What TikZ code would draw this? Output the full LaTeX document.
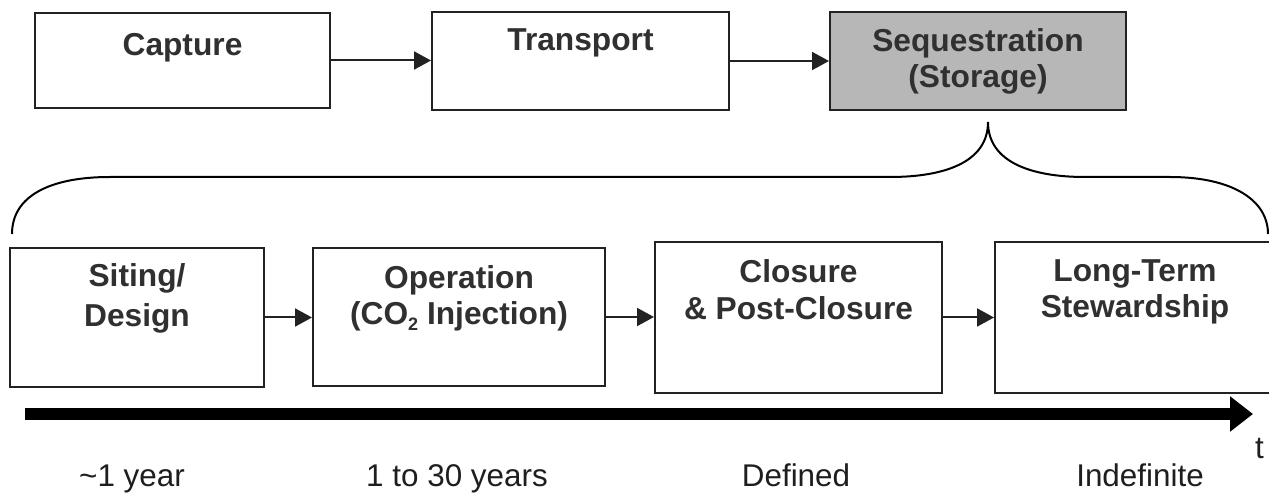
\documentclass[tikz,border=0pt]{standalone}
\usepackage{fontspec}
\setmainfont{Liberation Sans}
\usetikzlibrary{arrows.meta}
\definecolor{txt}{HTML}{303030}
\definecolor{lowtxt}{HTML}{1E1E1E}
\definecolor{seqgray}{HTML}{B7B7B7}
\definecolor{edge}{HTML}{222222}
\newcommand{\lowsub}[1]{\raisebox{-6pt}{\fontsize{18}{18}\selectfont #1}}
\begin{document}
\begin{tikzpicture}[x=1pt,y=-1pt,
  stagebox/.style={draw=edge, line width=2pt, inner sep=0pt, fill=white},
  lbl/.style={anchor=north, inner sep=0pt, align=center, text=txt},
  bigbold/.style={font=\fontsize{31.7}{#1}\selectfont\bfseries},
  conn/.style={draw=edge, line width=2pt, -{Triangle[length=17pt,width=18pt]}},
  brace/.style={draw=black, line width=2pt},
  dur/.style={anchor=base, inner sep=0pt, text=lowtxt, font=\fontsize{31.4}{37}\selectfont}]
\useasboundingbox (0,0) rectangle (1269,494);
\clip (0,0) rectangle (1269,494);

% top row
\node[stagebox, minimum width=295pt, minimum height=95pt] (cap) at (182.5,60.5) {};
\node[stagebox, minimum width=297pt, minimum height=98pt] (trans) at (580.5,61) {};
\node[stagebox, fill=seqgray, minimum width=296pt, minimum height=98pt] (seq) at (978,61) {};
\node[lbl, bigbold=37] (capT) at (182.5,33) {Capture};
\node[lbl, bigbold=37] (transT) at (580.5,28) {Transport};
\node[lbl, bigbold=36.5] (seqT) at (978,28) {Sequestration\\(Storage)};
\draw[conn] (cap.east) -- (cap.east -| trans.west);
\draw[conn] (trans.east) -- (trans.east -| seq.west);

% brace
\coordinate (bl) at (12,234);
\coordinate (br) at (1268,234);
\coordinate (btip) at (988,122);
\draw[brace] (bl) .. controls (12,196) and (50,177) .. (110,177) -- (890,177)
  .. controls (945,177) and (988,162) .. (btip)
  .. controls (988,162) and (1031,177) .. (1085,177) -- (1170,177)
  .. controls (1232,177) and (1268,200) .. (br);

% bottom row
\node[stagebox, minimum width=254pt, minimum height=139pt] (site) at (137,317.5) {};
\node[stagebox, minimum width=292pt, minimum height=138pt] (oper) at (459,317) {};
\node[stagebox, minimum width=287pt, minimum height=151pt] (clos) at (798.5,317.5) {};
\node[stagebox, minimum width=280pt, minimum height=151pt] (long) at (1135,317.5) {};
\node[lbl, bigbold=40] (siteT) at (137,263) {Siting/\\Design};
\node[lbl, bigbold=36] (operT) at (459,265) {Operation\\(CO\lowsub{2} Injection)};
\node[lbl, bigbold=37] (closT) at (798.5,259) {Closure\\\& Post-Closure};
\node[lbl, bigbold=36] (longT) at (1135,259) {Long-Term\\Stewardship};
\draw[conn] (site.east) -- (site.east -| oper.west);
\draw[conn] (oper.east) -- (oper.east -| clos.west);
\draw[conn] (clos.east) -- (clos.east -| long.west);

% time arrow
\coordinate (ts) at (25,414);
\coordinate (te) at (1253,414);
\draw[line width=12pt, black, -{Triangle[length=23pt,width=34pt]}] (ts) -- (te);
\node[anchor=base west, inner sep=0pt, text=lowtxt, font=\fontsize{31.4}{37}\selectfont] (tl) at (1255,458) {t};

% durations
\node[dur] (d1) at (132,486) {\textasciitilde1 year};
\node[dur] (d2) at (457,486) {1 to 30 years};
\node[dur] (d3) at (796,486) {Defined};
\node[dur] (d4) at (1140,486) {Indefinite};
\end{tikzpicture}
\end{document}
